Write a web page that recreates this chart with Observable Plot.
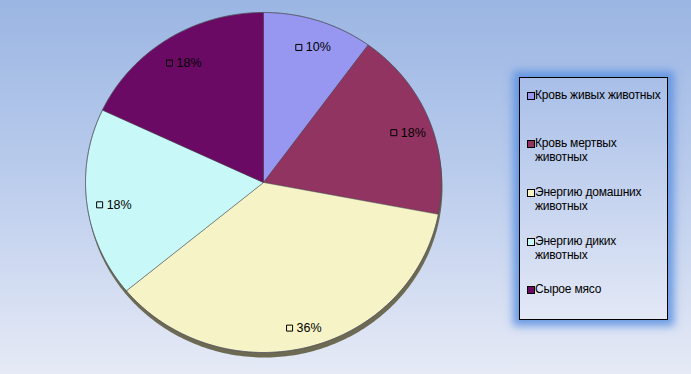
<!DOCTYPE html>
<html><head><meta charset="utf-8">
<script src="https://cdn.jsdelivr.net/npm/d3@7"></script>
<script src="https://cdn.jsdelivr.net/npm/@observablehq/plot@0.6"></script>
<style>
html,body{margin:0;padding:0;}
#wrap{position:relative;width:691px;height:374px;overflow:hidden;
 background:linear-gradient(to bottom,#9bb6e3 0%,#b9cbec 45%,#e6eaf6 100%);font-family:Arial,"Liberation Sans",sans-serif;}
#wrap svg{position:absolute;left:0;top:0;background:transparent;}
#legend{position:absolute;left:519px;top:77px;width:149px;height:243px;border:1px solid #000;box-sizing:border-box;
 background:linear-gradient(to bottom,#a9bfe8 0%,#c9d6f0 55%,#e3e8f6 100%);
 box-shadow:0 0 8px 6px rgba(90,145,225,0.85);}
.item{position:absolute;left:7px;font-size:12px;line-height:14px;color:#000;letter-spacing:-0.2px;white-space:nowrap;}
.sw{position:absolute;left:0;top:4px;width:6px;height:6px;border:1px solid #000;}
.lt{padding-left:8px;}
</style></head>
<body><div id="wrap"><div id="legend"></div></div>
<script>
const categories = ["Кровь живых животных","Кровь мертвых животных","Энергию домашних животных","Энергию диких животных","Сырое мясо"];
const legendLabels = [["Кровь живых животных"],["Кровь мертвых","животных"],["Энергию домашних","животных"],["Энергию диких","животных"],["Сырое мясо"]];
const values = [10, 18, 36, 18, 18];
const labels = ["10%","18%","36%","18%","18%"];
const colors = ["#9797f2","#923462","#f6f4c6","#c9f8f8","#6a0a64"];

const pie = d3.pie().sort(null).value(d => d)(values);
const poly = [];
pie.forEach((p, i) => {
  poly.push({k: i, x: 0, y: 0});
  const n = Math.max(4, Math.ceil((p.endAngle - p.startAngle) / 0.01));
  for (let j = 0; j <= n; j++) {
    const a = p.startAngle + (p.endAngle - p.startAngle) * j / n;
    poly.push({k: i, x: Math.sin(a), y: Math.cos(a)});
  }
  poly.push({k: i, x: 0, y: 0});
});
const outline = d3.range(0, 361, 1).map(d => ({x: Math.sin(d * Math.PI / 180), y: Math.cos(d * Math.PI / 180)}));
const lab = pie.map((p, i) => {
  const a = (p.startAngle + p.endAngle) / 2;
  return {x: 0.86 * Math.sin(a), y: 0.86 * Math.cos(a), t: labels[i]};
});

const chart = Plot.plot({
  width: 691, height: 374,
  margin: 0,
  x: {domain: [-1, 1], range: [85, 441], axis: null},
  y: {domain: [-1, 1], range: [352, 12], axis: null},
  color: {domain: d3.range(categories.length), range: colors},
  style: {background: "transparent", fontFamily: "Arial, 'Liberation Sans', sans-serif"},
  marks: [
    Plot.line(outline, {x: "x", y: "y", fill: "#6c6a52", stroke: "none", dy: 5, dx: 1}),
    Plot.line(poly, {x: "x", y: "y", z: "k", fill: d => d.k, stroke: "#4a4a55", strokeWidth: 0.6, strokeOpacity: 0.8}),
    Plot.line(outline, {x: "x", y: "y", stroke: "#505060", strokeWidth: 0.8, strokeOpacity: 0.7}),
    Plot.dot(lab, {x: "x", y: "y", symbol: "square", r: 3.4, fill: "none", stroke: "#000", strokeWidth: 1, dx: -12, dy: 4}),
    Plot.text(lab, {x: "x", y: "y", text: "t", textAnchor: "start", dx: -5, dy: 4, fontSize: 12.5, fill: "#000"})
  ]
});
document.getElementById("wrap").appendChild(chart);

const tops = [10, 58, 107, 156, 204];
const lg = document.getElementById("legend");
legendLabels.forEach((lines, i) => {
  const it = document.createElement("div");
  it.className = "item";
  it.style.top = tops[i] + "px";
  it.innerHTML = `<div class="sw" style="background:${colors[i]}"></div><div class="lt">${lines.join("<br>")}</div>`;
  lg.appendChild(it);
});
</script></body></html>
